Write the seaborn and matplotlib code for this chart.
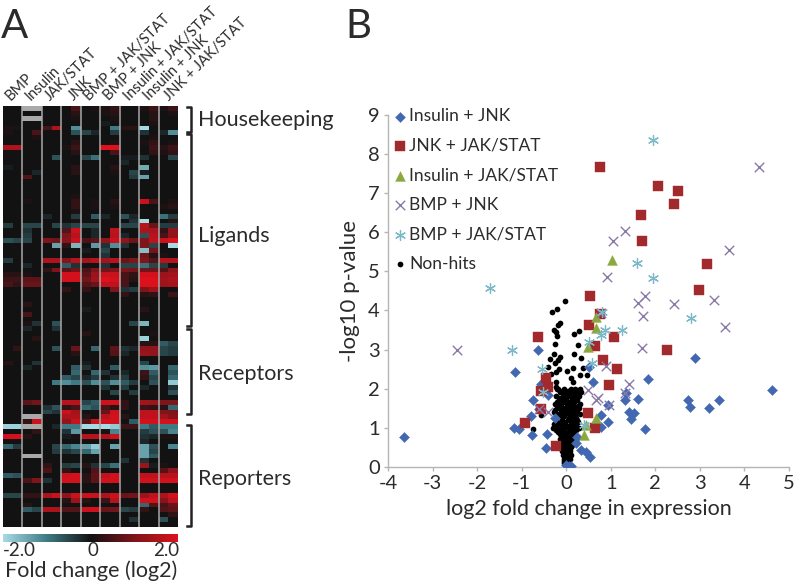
import numpy as np
import pandas as pd
import matplotlib
matplotlib.use("Agg")
import matplotlib.pyplot as plt
from matplotlib.colors import LinearSegmentedColormap
from matplotlib.lines import Line2D
import seaborn as sns

N = float("nan")
conditions = ["BMP", "Insulin", "JAK/STAT", "JNK", "BMP + JAK/STAT", "BMP + JNK",
              "Insulin + JAK/STAT", "Insulin + JNK", "JNK + JAK/STAT"]
group_labels = ["Housekeeping", "Ligands", "Receptors", "Reporters"]

# log2 fold change; two replicate cells per condition, one row per gene
heat_rows = [
[0,0, N,N, 0,0, 0,.5, 0,.1, .1,.3, 0,0, .1,.4, .1,.4],
[0,0, 0,0, 0,0, 0,.2, 0,0, .1,.2, 0,0, 0,.2, 0,.1],
[0,0, N,N, 0,0, 0,.1, 0,0, 0,.1, 0,0, 0,.2, 0,0],
[0,0, 0,0, 0,0, 0,0, 0,0, -.1,0, 0,0, 0,.1, 0,0],
[.1,.1, 0,0, .5,1.5, 0,-1.2, 0,0, 0,-1, .2,.2, -2,0, 0,0],
[.1,0, 0,.5, 0,0, 0,-.6, -.5,-.2, 0,-.4, 0,0, -.3,0, -.2,-1.2],
[0,0, 0,.1, 0,0, 0,0, 0,0, 0,0, 0,0, 0,.1, 0,0],
[0,0, 0,0, 0,0, 0,.2, 0,0, 0,.1, 0,0, .1,.3, 0,.1],
[1.5,1.5, 0,0, 0,0, .1,.4, 0,0, 2,2, 0,0, 0,.4, .2,.4],
[0,0, 0,0, 0,0, 0,.2, 0,0, 0,.5, 0,0, 0,.3, .1,.3],
[0,0, 0,0, 0,-.6, 0,0, -.5,-.9, 0,0, -.1,-.1, -.3,0, 0,-.5],
[0,0, 0,0, 0,0, 0,0, 0,0, 0,0, -.2,0, 0,0, 0,0],
[-.1,0, 0,0, 0,0, 0,.2, 0,0, 0,.2, 0,0, -1.5,0, 0,0],
[0,0, 0,-.2, 0,0, 0,.2, 0,0, 0,.1, 0,-.5, -.1,0, 0,0],
[0,0, .6,0, 0,0, 0,0, 0,0, 0,0, 0,-.4, -1.4,0, 0,0],
[0,0, 0,0, 0,0, 0,0, 0,0, 0,0, 0,0, 0,0, 0,0],
[0,0, 0,0, 0,0, 0,0, 0,0, 0,0, 0,0, 0,0, 0,0],
[0,0, 0,0, 0,0, 0,0, 0,0, 0,0, 0,0, 0,0, 0,0],
[0,0, 0,0, 0,0, 0,.1, 0,0, 0,0, 0,0, 0,0, 0,0],
[0,0, .1,0, 0,0, 0,.3, 0,.1, 0,.2, 0,0, 1.8,.5, 0,.1],
[0,0, 0,0, 0,0, 0,.3, 0,.1, 0,.1, 0,0, 0,0, .1,.2],
[0,0, 0,0, 0,0, 0,.1, 0,0, 0,0, 0,0, 0,0, 0,0],
[0,0, 0,0, -.2,0, 0,-.4, 0,-.7, -.2,0, -.6,-.2, 0,0, -.9,-.4],
[0,0, 0,0, 0,0, 0,.1, 0,0, 0,0, 0,-.3, -2,0, 0,.2],
[-.4,0, -.5,-.5, 0,-.5, -.3,-.5, -.5,-.5, 0,0, -.5,-.5, 1.6,.8, -.4,-.4],
[0,0, -.3,0, 0,0, .6,1.8, 0,-.2, 0,1.7, 0,0, 1.5,1.5, .3,1.2],
[0,0, -.4,0, 0,0, 1,1.6, 0,-.2, 0,1.6, -.2,0, -.6,1.6, .5,1.2],
[-.6,-.5, -.5,0, 1,.9, 1.1,1.8, .5,.7, 1.2,1.8, 1.2,.8, 1,1.7, 1.8,2],
[0,0, 0,0, 0,-1.4, .3,-1.6, 0,-1.3, -.3,-1.2, -.3,0, 1,-.5, 0,-2],
[0,0, 0,0, 0,0, 0,0, -.1,0, -.5,0, 0,0, -1.7,.9, 0,0],
[0,0, 0,0, 0,0, 0,0, 0,0, -.3,0, 0,0, .9,.2, .1,0],
[-.4,0, 0,0, 1.5,1.5, 1.1,1.6, 1.4,1.6, 1.4,1.6, .8,1, 1,.6, 1.6,1.6],
[0,0, -.2,0, 0,0, -.7,-.3, 0,0, -.3,0, -.5,-.5, -.9,-.5, -.4,0],
[0,0, 0,0, .3,1, .7,.9, .5,1, .9,1, 1,.9, .9,.9, .6,1.2],
[.2,.2, .1,0, 0,0, 1.9,1.9, .7,1.3, 1.8,1.8, .5,.3, 1.9,1.9, 1.3,1.4],
[.4,.4, .7,.7, 0,0, 1.9,1.9, .9,1.4, 2,1.9, .5,.2, 2,2, 1.4,1.5],
[.5,.3, .8,.8, 0,0, 0,0, .6,.8, 1.7,1.7, .5,0, 2,2, 1.3,1.4],
[0,0, 0,0, 0,0, .3,0, .3,0, 0,1, -.3,-.4, 1,1.3, 0,0],
[0,0, 0,0, 0,0, 0,0, 0,0, 0,0, .3,0, .2,.3, 0,.4],
[0,0, 0,0, 0,0, 0,0, 0,0, 0,0, 0,0, 0,0, 0,0],
[0,0, .2,0, 0,0, 0,0, 0,0, 0,0, 0,0, 0,0, 0,0],
[0,0, 0,0, 0,0, 0,0, -.1,0, 0,0, 0,0, .2,0, 0,0],
[0,0, .5,0, 0,0, 0,0, 0,0, 0,0, 0,0, 0,0, 0,0],
[0,0, 0,0, 0,0, 0,0, 0,0, 0,0, 0,0, 0,0, 0,0],
[0,0, .1,-.3, 0,-.6, 0,0, 0,0, 0,0, 0,-.5, -1.6,0, 0,0],
[0,0, -.2,0, 0,-.3, 0,0, 0,0, 0,0, 0,0, 0,0, 0,0],
[0,0, 0,0, 0,0, 0,0, .2,0, 0,0, 0,0, 0,.1, 0,0],
[0,0, 0,.2, 0,0, 0,0, 0,0, 0,0, 0,0, -1.9,0, 0,0],
[0,0, 0,0, 0,0, 0,0, 0,0, 0,0, 0,0, .2,.2, -.7,-.5],
[0,.3, 0,0, 0,-.6, 0,.8, 0,-.8, 0,.7, -.3,-.2, 1.2,1.2, -.5,-.4],
[0,0, 0,0, 0,0, 0,.2, 0,0, 0,.6, -.2,0, 1.3,1.2, -.5,-.4],
[0,0, 0,0, 0,0, 0,0, 0,0, 0,0, 0,0, 0,0, 0,0],
[.2,0, 0,-.3, 0,0, 0,0, -.1,0, 0,0, 0,0, -.5,0, 0,0],
[0,0, -.2,0, 0,0, 0,-.7, -.3,0, 0,-.7, 0,0, -1.2,-1.3, 0,-.8],
[0,0, 0,0, 0,0, 0,-.8, 0,-.8, -.3,0, -.2,0, .4,-.7, 0,-.6],
[0,0, 0,0, 0,0, -.7,-.5, -.2,-.4, 0,-.3, -.4,0, .3,-.5, 0,-.8],
[0,0, 0,0, 0,-1, -1.2,-1, -.6,-1.2, -.6,-1.2, -.7,-.4, 0,-.6, 0,-1.8],
[0,0, 0,0, 0,0, 0,0, 0,0, -.3,0, -.4,0, -.2,0, 0,-.3],
[0,0, 0,0, 0,0, 0,0, 0,0, 0,-.5, 0,-.4, 0,0, 0,-.6],
[0,0, 0,0, 0,0, 0,0, 0,0, 0,0, 0,0, 0,0, 0,0],
[0,0, .7,.9, 0,0, 1.6,1.6, -.5,-.7, 1.8,1.9, .3,0, 1.4,1.3, 1,1],
[0,0, 0,0, -.3,-.6, .3,.5, -.8,-.6, .5,.2, .3,0, .4,.3, .2,-.8],
[0,0, 0,0, -.5,-.3, 1.8,1.4, 0,0, .8,1.8, 0,0, 1.7,1.7, 1,1],
[0,0, N,N, 0,0, 1.5,1.5, .2,0, 1.6,1.9, .2,0, 1.7,1.7, 1.4,1.1],
[0,0, .3,1.8, 0,0, 1.2,1.8, .6,1.8, 1.9,1.9, 0,-.7, 1.9,1.9, 1.9,1.9],
[-1.9,-1.9, N,N, 0,-.2, -1,-1, -2,-2, -2,-1.8, .4,.4, -1,-.7, -1,-1],
[0,0, 0,.3, 0,0, -.3,-1.3, 0,0, .1,-1.1, 0,0, -.4,-.6, -.6,-1.1],
[1.9,1.9, .2,0, 0,0, -.1,.1, 1.6,1.6, 1.5,1.8, 0,0, -.3,-.2, .1,.1],
[0,0, 0,0, 0,0, 0,0, 0,0, 0,0, 0,0, -.2,0, 0,0],
[-.8,-.4, 0,0, 0,-.5, -.8,-1.1, -1.4,-1.8, 0,-1.4, 0,0, -1.4,-.6, 0,-1.1],
[0,0, 0,0, 0,-.4, -.3,-.5, -.8,-1.4, 0,0, 0,0, -1.4,-.5, 0,0],
[0,0, N,N, 0,0, 0,0, 0,0, 0,0, 0,0, -1.4,-.7, 0,0],
[0,0, 0,0, 0,0, 0,0, 0,0, 0,0, -.3,0, -.3,0, 0,0],
[0,0, 0,0, .3,0, -.4,-.5, .2,-.3, -.5,-.9, 0,0, 1.3,-.1, .1,0],
[0,0, 0,0, .5,0, .3,0, 0,.6, 0,0, 0,0, 0,0, .6,1.2],
[-.7,-.6, 0,0, 0,0, 1.8,1.9, .2,.7, 1.7,1.9, 0,0, 1.7,1.7, 1.6,1.6],
[0,0, .5,1, -.3,0, 1.9,1.9, .2,.7, 1.9,1.9, 0,0, 1.9,1.9, 1.9,1.9],
[0,0, 0,0, 0,0, 0,0, 0,0, 0,0, 0,0, 0,0, 0,0],
[0,0, 0,0, 0,0, 0,0, 0,0, 0,0, 0,0, 0,0, 0,0],
[-.5,-.5, .3,.3, 1.5,1.8, 1.2,1.8, 1.8,1.8, 1.5,1.8, .8,.9, 1.3,1.7, 1.5,1.9],
[0,0, 0,0, 0,0, .2,1.3, .2,0, .4,1.6, 0,0, 1.9,1.9, 1.1,1.7],
[0,0, .2,0, 0,0, 0,0, 0,0, 0,0, 0,0, -.8,.6, .5,.8],
[0,0, -.7,-.5, 1.5,1.5, .6,.6, 1.8,1.9, .8,.9, -.5,-.4, .3,0, .6,.7],
[0,0, 0,0, 0,0, 0,0, 0,0, 0,0, 0,0, 0,0, 0,.3],
[0,0, 0,0, 0,0, 0,0, 0,0, 0,0, 0,-.3, 0,0, -.6,0],
[0,0, 0,0, 0,0, 0,0, 0,0, 0,0, 0,0, 0,0, 0,0],
]

# Volcano plot: log2 fold change (x) and -log10 p-value (y)
ins_jnk_x = [-3.65,-1.15,-.63,.5,.6,1.83,2.9,4.61,3.44,2.73,2.77,3.21,1.62,1.35,1.33,.93,1.4,1.52,1.46,1.77,.93,.78,.78,-.75,-.41,-.56,-.8,-1.17,-1.06,-.77,-.43,-.45,-.26,.24,.22,.34,.45,.54,.06,0,.1,-.6]
ins_jnk_y = [.77,2.42,2.98,2.54,2.18,2.24,2.79,1.96,1.71,1.72,1.52,1.51,1.74,1.88,1.72,1.57,1.41,1.37,1.21,.97,1.15,1.32,1.02,1.72,1.83,2.12,1.31,.99,.96,.81,.84,.47,1.24,.77,.6,.43,.38,.26,.03,.04,.02,1.47]
jnk_jak_x = [.75,2.06,2.5,2.42,1.67,1.69,3.15,2.97,.53,.76,.52,-.64,1.07,.65,2.27,.82,1.14,-.45,.97,-.41,-.57,-.57,.49,-.92,.64,-.23]
jnk_jak_y = [7.68,7.19,7.07,6.73,6.44,5.79,5.2,4.52,4.37,3.92,3.63,3.31,3.33,3.1,2.98,2.73,2.49,2.28,2.08,2.03,1.95,1.47,1.37,1.11,1.0,.54]
ins_jak_x = [1.02,.66,.67,.49,.66,.45,.39]
ins_jak_y = [5.29,3.84,3.54,3.07,1.25,1.07,.81]
bmp_jnk_x = [4.32,1.31,1.05,3.65,.92,1.77,1.61,2.41,3.31,1.72,3.56,-2.45,1.7,.9,1.4,.49,1.33,.66,.71,.97,-.6,-.41,.78]
bmp_jnk_y = [7.68,6.03,5.78,5.56,4.86,4.38,4.2,4.16,4.26,3.86,3.57,2.99,3.05,2.58,2.12,1.96,1.88,1.71,1.75,1.57,1.47,1.41,3.94]
bmp_jak_x = [1.94,1.58,1.94,-1.7,2.8,.81,.87,1.26,.78,.52,-1.21,.58,-.54,-.52,.41]
bmp_jak_y = [8.36,5.21,4.82,4.57,3.82,3.97,3.5,3.5,3.37,3.2,2.99,2.65,2.49,1.92,1.07]
non_x = [-.02,-.33,-.2,-.13,-.19,-.28,-.22,-.2,.17,.28,-.26,.26,-.28,.17,.34,-.37,-.13,-.19,-.26,-.4,.15,.02,-.17,-.24,-.34,.37,.32,.46,.11,.15,-.24,-.22,-.19,-.75,-.56,
 -.2,-.05,.1,.2,.3, -.15,-.02,.08,.22,.33, -.22,-.08,.05,.18,.28, -.1,0,.12,.25, -.25,-.12,.02,.15,.3,
 -.2,-.05,.1,.22,.28, -.28,-.12,0,.12,.24, -.15,-.05,.08,.2, -.22,-.1,.03,.15,.25, -.28,-.14,-.02,.1,.2,
 -.3,-.16,-.05,.05,.16,.28, -.18,-.06,.06,.18, -.12,0,.12, -.15,-.05,.08,.16, -.1,.02,.12, -.12,-.02,.1,
 -.1,0,.08, -.08,.02,.1, -.06,.03,.08, -.05,0,.05, -.02,.03,
 -.13,.03,.14,.26, -.06,.1,.2, -.16,-.02,.12,.24, -.2,-.08,.06,.18, -.14,.04,.16,.27,
 -.26,-.12,.03,.17, -.2,-.08,.06,.16,.3, -.24,-.1,.06,.22, -.2,-.06,.1,.26, -.24,-.1,.02,.14,.22,
 -.22,-.1,.1,.22, -.14,-.04,.06,.14, -.08,.05,.15, -.1,0,.1, -.04,.06,.12, -.06,.05, -.05,.04, -.03,.05, -.04,.02]
non_y = [4.24,3.97,4.04,3.69,3.64,3.5,3.46,3.34,3.4,3.47,3.13,3.11,2.88,2.88,2.79,2.77,2.8,2.73,2.65,2.56,2.52,2.45,2.49,2.43,2.37,2.52,2.36,2.35,2.26,2.18,2.18,2.05,2.0,.96,1.32,
 2,2,2,2,2, 1.9,1.9,1.9,1.9,1.9, 1.8,1.8,1.8,1.8,1.8, 1.7,1.7,1.7,1.7, 1.6,1.6,1.6,1.6,1.6,
 1.5,1.5,1.5,1.5,1.5, 1.4,1.4,1.4,1.4,1.4, 1.3,1.3,1.3,1.3, 1.2,1.2,1.2,1.2,1.2, 1.1,1.1,1.1,1.1,1.1,
 1,1,1,1,1,1, .9,.9,.9,.9, .8,.8,.8, .7,.7,.7,.7, .6,.6,.6, .5,.5,.5,
 .4,.4,.4, .3,.3,.3, .2,.2,.2, .1,.1,.1, .03,.03,
 1.95,1.95,1.95,1.95, 1.85,1.85,1.85, 1.75,1.75,1.75,1.75, 1.65,1.65,1.65,1.65, 1.55,1.55,1.55,1.55,
 1.45,1.45,1.45,1.45, 1.35,1.35,1.35,1.35,1.35, 1.25,1.25,1.25,1.25, 1.15,1.15,1.15,1.15, 1.05,1.05,1.05,1.05,1.05,
 .95,.95,.95,.95, .85,.85,.85,.85, .75,.75,.75, .65,.65,.65, .55,.55,.55, .45,.45, .35,.35, .25,.25, .15,.15]

W, H = 796, 582
plt.rcParams["font.family"] = ["Lato", "DejaVu Sans"]
plt.rcParams["axes.unicode_minus"] = False
TXT = "#2b2b2b"
fig = plt.figure(figsize=(W / 100, H / 100), dpi=100)


def box(x0, y0, x1, y1):
    return [x0 / W, 1 - y1 / H, (x1 - x0) / W, (y1 - y0) / H]


def ptext(x, y, s, **kw):
    kw.setdefault("color", TXT)
    return fig.text(x / W, 1 - y / H, s, **kw)


# ---- Panel A ----
cmap = LinearSegmentedColormap.from_list(
    "fc", [(0, "#a5dbe5"), (.25, "#3f7a84"), (.5, "#121212"), (.75, "#7c151b"), (1, "#dc111c")])
cmap.set_bad("#a9a9a9")
ax_h = fig.add_axes(box(3, 106, 178, 527))
ax_c = fig.add_axes(box(3, 534, 178, 542))
heat = pd.DataFrame(heat_rows, dtype=float)
sns.heatmap(heat, ax=ax_h, cmap=cmap, vmin=-2, vmax=2, xticklabels=False, yticklabels=False,
            cbar_ax=ax_c, cbar_kws={"orientation": "horizontal", "ticks": []})
ax_h.set_xlabel(""); ax_h.set_ylabel("")
ax_h.vlines(np.arange(2, 18, 2), 0, len(heat_rows), color="#a8a8a8", lw=1.1)
ax_h.collections[0].colorbar.outline.set_visible(False)

label_x = [11, 31, 50, 74, 89, 109, 129, 149, 169]
for x, name in zip(label_x, conditions):
    ptext(x, 101, name, rotation=45, rotation_mode="anchor", ha="left", va="baseline", fontsize=10.5)

ptext(3, 556, "-2.0", fontsize=13.5, ha="left", va="baseline")
ptext(93, 556, "0", fontsize=13.5, ha="center", va="baseline")
ptext(179, 556, "2.0", fontsize=13.5, ha="right", va="baseline")
ptext(91, 577, "Fold change (log2)", fontsize=15.5, ha="center", va="baseline")
ptext(1, 38, "A", fontsize=29, ha="left", va="baseline")
ptext(345, 38, "B", fontsize=29, ha="left", va="baseline")

for (y0, y1), yl, name in zip([(107, 132), (134, 326), (329, 414), (425, 526)], [120, 236, 374, 479], group_labels):
    fig.add_artist(Line2D([187 / W, 190.5 / W, 190.5 / W, 187 / W],
                          [1 - y0 / H, 1 - y0 / H, 1 - y1 / H, 1 - y1 / H], color="#222222", lw=1.8))
    ptext(198, yl, name, fontsize=15.5, ha="left", va="center")

# ---- Panel B ----
ax = fig.add_axes(box(388, 115.2, 789, 466.7))
grid_series = [
    ("Insulin + JNK", ins_jnk_x, ins_jnk_y, "D", 26, "#4268b2", 3, {"edgecolor": "#4268b2", "linewidth": .3}),
    ("JNK + JAK/STAT", jnk_jak_x, jnk_jak_y, "s", 50, "#a32a2c", 4, {"edgecolor": "#a32a2c", "linewidth": .3}),
    ("Insulin + JAK/STAT", ins_jak_x, ins_jak_y, "^", 50, "#8aa83e", 5, {"edgecolor": "#8aa83e", "linewidth": .3}),
    ("BMP + JNK", bmp_jnk_x, bmp_jnk_y, "x", 46, "#8879a8", 6, {"linewidth": 1}),
    ("BMP + JAK/STAT", bmp_jak_x, bmp_jak_y, (6, 2, 0), 52, "#7db8c8", 7, {"linewidth": .9}),
    ("Non-hits", non_x, non_y, "o", 17, "#000000", 2, {"edgecolor": "#000000", "linewidth": 0}),
]
for label, xs, ys, marker, size, color, z, extra in grid_series:
    sns.scatterplot(x=xs, y=ys, ax=ax, marker=marker, s=size, color=color, label=label, zorder=z, **extra)

ax.set_xlim(-4, 5)
ax.set_ylim(0, 9)
ax.set_xticks(range(-4, 6))
ax.set_yticks(range(0, 10))
ax.patch.set_alpha(0)
sns.despine(ax=ax)
for s in ("left", "bottom"):
    ax.spines[s].set_color("#b5b5b5")
    ax.spines[s].set_linewidth(1)
ax.tick_params(axis="both", color="#b5b5b5", length=3, width=1, labelsize=14.5, labelcolor=TXT, pad=3)
ax.set_xlabel("log2 fold change in expression", fontsize=15.5, color=TXT, labelpad=5)
ax.set_ylabel("-log10 p-value", fontsize=16, color=TXT, labelpad=6)
ax.legend(loc="upper left", bbox_to_anchor=(0.0, 1.02), frameon=False, fontsize=12.5,
          labelspacing=.78, handletextpad=-.19, handlelength=1.4, borderaxespad=0, borderpad=0,
          labelcolor=TXT)

fig.savefig("out.png", dpi=100, facecolor="white")
